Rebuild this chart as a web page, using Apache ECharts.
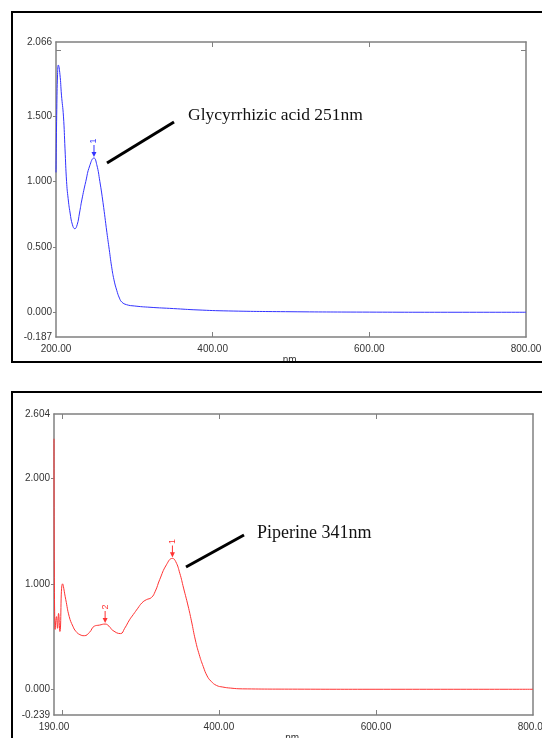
<!DOCTYPE html>
<html>
<head>
<meta charset="utf-8">
<script src="https://cdn.jsdelivr.net/npm/echarts@6/dist/echarts.min.js"></script>
<style>
  html, body { margin: 0; padding: 0; background: #fff; }
  #chart { width: 542px; height: 738px; }
</style>
</head>
<body>
<div id="chart"></div>
<script>
// Glycyrrhizic acid spectrum (top panel)
const glyWavelength = [200, 201, 202, 203, 205, 207, 209.5, 211.5, 213.5, 215.5, 218, 221, 224, 227, 230, 233, 238, 243, 248.5, 252, 256, 260, 265, 268, 271, 274, 277.5, 281, 284, 290, 300, 320, 350, 380, 420, 500, 600, 700, 800]
const glyAbsorbance = [1.07, 1.55, 1.82, 1.89, 1.82, 1.66, 1.50, 1.25, 1.00, 0.87, 0.76, 0.67, 0.64, 0.67, 0.76, 0.86, 1.00, 1.12, 1.18, 1.13, 1.00, 0.84, 0.61, 0.48, 0.35, 0.25, 0.17, 0.11, 0.08, 0.06, 0.05, 0.04, 0.03, 0.02, 0.012, 0.006, 0.003, 0.002, 0.002]
const glyPeakLabels = ['1']
const glyPeakWavelength = [248.5]
const glyPeakAbsorbance = [1.18]
const glyXLabels = [200, 400, 600, 800]
const glyXTicks = [400, 600]
const glyYLabels = [-0.187, 0, 0.5, 1, 1.5, 2.066]
const glyYTicks = [0, 0.5, 1, 1.5]

// Piperine spectrum (bottom panel)
const pipWavelength = [190, 191.5, 193.2, 194.5, 195.8, 197.5, 200.9, 205, 209.4, 214, 218, 223, 228.6, 235, 241.4, 247.8, 255.1, 260, 264.9, 274.7, 280, 286.2, 291, 296.8, 302, 307.6, 314, 319, 324.6, 333.2, 340.8, 345, 350.2, 355, 360.8, 365, 370, 375, 380, 385, 390, 397, 405, 415, 430, 500, 600, 800]
const pipAbsorbance = [2.37, 0.57, 0.69, 0.58, 0.72, 0.55, 1.00, 0.85, 0.69, 0.60, 0.55, 0.52, 0.51, 0.54, 0.60, 0.61, 0.62, 0.60, 0.56, 0.53, 0.58, 0.66, 0.71, 0.77, 0.82, 0.85, 0.87, 0.93, 1.04, 1.18, 1.24, 1.21, 1.10, 0.96, 0.79, 0.65, 0.47, 0.33, 0.22, 0.13, 0.08, 0.04, 0.025, 0.015, 0.008, 0.005, 0.004, 0.004]
const pipPeakLabels = ['1', '2']
const pipPeakWavelength = [340.8, 255.1]
const pipPeakAbsorbance = [1.24, 0.62]
const pipXLabels = [190, 400, 600, 800]
const pipXTicks = [200, 400, 600]
const pipYLabels = [-0.239, 0, 1, 2, 2.604]
const pipYTicks = [0, 1, 2]

const frameColor = '#808080'
const labelStyle = { fontSize: 10, color: '#333', fontFamily: '"Liberation Sans", Arial, sans-serif' }
const arrowPath = 'path://M4,0 L6,0 L6,8 L10,8 L5,14 L0,8 L4,8 Z'

const xAxes = (gridIndex, min, max, labels, ticks) => [
  {
    type: 'value', gridIndex, min, max, position: 'bottom',
    name: 'nm.', nameLocation: 'middle', nameGap: 16, nameTextStyle: labelStyle,
    axisLine: { onZero: false, lineStyle: { color: frameColor, width: 1.5 } },
    axisTick: { inside: true, length: 5, customValues: ticks, lineStyle: { color: frameColor } },
    axisLabel: { ...labelStyle, margin: 7, customValues: labels, formatter: v => v.toFixed(2) },
    splitLine: { show: false }
  },
  {
    type: 'value', gridIndex, min, max, position: 'top',
    axisLine: { onZero: false, lineStyle: { color: frameColor, width: 1.5 } },
    axisTick: { inside: true, length: 5, customValues: ticks, lineStyle: { color: frameColor } },
    axisLabel: { show: false },
    splitLine: { show: false }
  }
]

const yAxes = (gridIndex, min, max, labels, ticks, innerTicks) => [
  {
    type: 'value', gridIndex, min, max, position: 'left',
    axisLine: { show: true, onZero: false, lineStyle: { color: frameColor, width: 1.5 } },
    axisTick: { show: true, inside: false, length: 3, customValues: ticks, lineStyle: { color: frameColor } },
    axisLabel: { ...labelStyle, margin: 4, customValues: labels, formatter: v => v.toFixed(3) },
    splitLine: { show: false }
  },
  {
    type: 'value', gridIndex, min, max, position: 'left',
    axisLine: { show: false, onZero: false },
    axisTick: { show: innerTicks.length > 0, inside: true, length: 5, customValues: innerTicks, lineStyle: { color: frameColor } },
    axisLabel: { show: false },
    splitLine: { show: false }
  },
  {
    type: 'value', gridIndex, min, max, position: 'right',
    axisLine: { show: true, onZero: false, lineStyle: { color: frameColor, width: 1.5 } },
    axisTick: { show: innerTicks.length > 0, inside: true, length: 5, customValues: innerTicks, lineStyle: { color: frameColor } },
    axisLabel: { show: false },
    splitLine: { show: false }
  }
]

const peakMarks = (labels, xs, ys) => labels.map((name, i) => ({ name, coord: [xs[i], ys[i]] }))

const spectrum = (xIndex, yIndex, xs, ys, color, peaks) => ({
  type: 'line',
  xAxisIndex: xIndex,
  yAxisIndex: yIndex,
  data: xs.map((x, i) => [x, ys[i]]),
  showSymbol: false,
  smooth: 0.5,
  lineStyle: { color, width: 1 },
  itemStyle: { color },
  markPoint: {
    symbol: arrowPath,
    symbolSize: [5, 12],
    symbolOffset: [0, '-58%'],
    itemStyle: { color },
    label: {
      show: true, position: 'top', distance: 4, rotate: 90,
      align: 'center', verticalAlign: 'middle',
      formatter: '{b}', color, fontSize: 9, fontFamily: labelStyle.fontFamily
    },
    data: peaks
  }
})

const chart = echarts.init(document.getElementById('chart'))

chart.setOption({
  animation: false,
  backgroundColor: '#fff',
  grid: [
    { left: 56, top: 42, right: 16, height: 295, outerBoundsMode: 'none' },
    { left: 54, top: 414, right: 9, height: 301, outerBoundsMode: 'none' }
  ],
  xAxis: [
    ...xAxes(0, 200, 800, glyXLabels, glyXTicks),
    ...xAxes(1, 190, 800, pipXLabels, pipXTicks)
  ],
  yAxis: [
    ...yAxes(0, -0.187, 2.066, glyYLabels, glyYTicks, [2]),
    ...yAxes(1, -0.239, 2.604, pipYLabels, pipYTicks, [])
  ],
  series: [
    spectrum(0, 0, glyWavelength, glyAbsorbance, '#3333ff',
      peakMarks(glyPeakLabels, glyPeakWavelength, glyPeakAbsorbance)),
    spectrum(2, 3, pipWavelength, pipAbsorbance, '#ff3333',
      peakMarks(pipPeakLabels, pipPeakWavelength, pipPeakAbsorbance))
  ],
  graphic: [
    // panel borders (cut off on the right / bottom in the source figure)
    { type: 'rect', z: 100, shape: { x: 12, y: 12, width: 560, height: 350 }, style: { fill: 'none', stroke: '#000', lineWidth: 2 } },
    { type: 'rect', z: 100, shape: { x: 12, y: 392, width: 560, height: 400 }, style: { fill: 'none', stroke: '#000', lineWidth: 2 } },
    // callouts
    { type: 'line', z: 100, shape: { x1: 107, y1: 163, x2: 174, y2: 122 }, style: { stroke: '#000', lineWidth: 3 } },
    { type: 'text', z: 100, x: 188, y: 115, style: { text: 'Glycyrrhizic acid 251nm', font: '17.5px "Liberation Serif", "Times New Roman", serif', fill: '#111', verticalAlign: 'middle' } },
    { type: 'line', z: 100, shape: { x1: 186, y1: 567, x2: 244, y2: 535 }, style: { stroke: '#000', lineWidth: 3 } },
    { type: 'text', z: 100, x: 257, y: 533, style: { text: 'Piperine 341nm', font: '18px "Liberation Serif", "Times New Roman", serif', fill: '#111', verticalAlign: 'middle' } }
  ]
})

window.addEventListener('resize', () => chart.resize())
</script>
</body>
</html>
